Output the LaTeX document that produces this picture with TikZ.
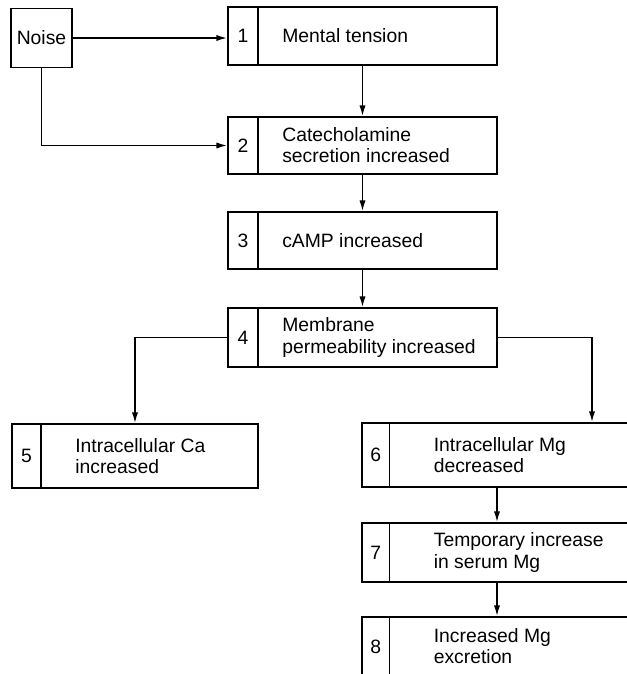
\documentclass[tikz,border=0pt]{standalone}
\usepackage{fontspec}
\setmainfont{Liberation Sans}
\usepackage{tikz}
\usetikzlibrary{arrows.meta,positioning}

\begin{document}
\begin{tikzpicture}[every node/.style={font=\fontsize{11}{12}\selectfont},
	box/.style={draw, line width=1.1pt, inner sep=0pt},
	numcell/.style={draw, line width=1.1pt, inner sep=0pt},
	txt/.style={inner sep=0pt, align=left},
	arr/.style={line width=0.8pt, -{Latex[length=6pt,width=3.5pt]}}]
	\useasboundingbox (0,0) rectangle (12.54,-13.48);
	\clip (0,0) rectangle (12.54,-13.48);
	\node[box, minimum width=1.22cm, minimum height=1.18cm] (noise) at (0.83,-0.76) {Noise};
	\foreach \i/\y/\h/\t in {1/-0.72/1.16/{Mental tension}, 2/-2.91/1.14/{Catecholamine\\secretion increased}, 3/-4.81/1.14/{cAMP increased}, 4/-6.75/1.18/{Membrane\\permeability increased}} {
		\node[box, minimum width=5.38cm, minimum height=\h cm] (b\i) at (7.25,\y) {};
		\node[numcell, minimum width=0.6cm, minimum height=\h cm, anchor=west] (n\i) at (b\i.west) {\i};
		\node[txt, right=0.46cm of n\i] (t\i) {\t};
	}
	\node[box, minimum width=4.92cm, minimum height=1.28cm] (b5) at (2.70,-9.12) {};
	\node[numcell, minimum width=0.58cm, minimum height=1.28cm, anchor=west] (n5) at (b5.west) {5};
	\node[txt, right=0.66cm of n5] (t5) {Intracellular Ca\\increased};
	\foreach \i/\y/\h/\t in {6/-9.10/1.28/{Intracellular Mg\\decreased}, 7/-11.05/1.18/{Temporary increase\\in serum Mg}, 8/-12.93/1.18/{Increased Mg\\excretion}} {
		\node[box, minimum width=5.4cm, minimum height=\h cm] (b\i) at (9.94,\y) {};
		\node[numcell, minimum width=0.55cm, minimum height=\h cm, anchor=west] (n\i) at (b\i.west) {\i};
		\node[txt, right=0.86cm of n\i] (t\i) {\t};
	}
	\coordinate (turn6) at (11.84,-6.75);
	\draw[arr] (noise.east) -- (noise.east -| b1.west);
	\draw[arr] (noise.south) |- (b2.west);
	\draw[arr] (b1) -- (b2);
	\draw[arr] (b2) -- (b3);
	\draw[arr] (b3) -- (b4);
	\draw[arr] (b4.west) -| (b5.north);
	\draw[arr] (b4.east) -- (turn6) -- (turn6 |- b6.north);
	\draw[arr] (b6) -- (b7);
	\draw[arr] (b7) -- (b8);
\end{tikzpicture}
\end{document}
